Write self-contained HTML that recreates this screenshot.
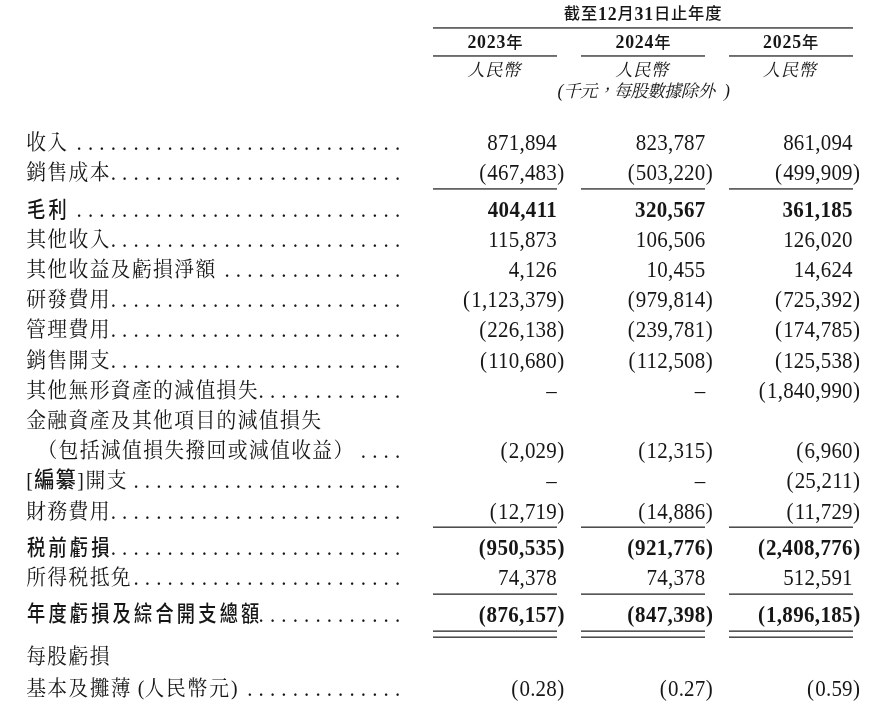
<!DOCTYPE html>
<html lang="zh-Hant">
<head>
<meta charset="utf-8">
<title>綜合損益表</title>
<style>
html,body{margin:0;padding:0;background:#fff;}
body{width:882px;height:715px;position:relative;overflow:hidden;color:#161616;
 font-family:"Liberation Serif","Noto Serif CJK SC",serif;font-size:21px;}
.r{position:absolute;left:0;width:882px;height:30px;white-space:nowrap;}
.r span{position:absolute;top:0;white-space:nowrap;line-height:30px;}
.r .l{left:26.2px;top:-0.99px;font-size:19.8px;letter-spacing:1.37px;transform:scaleY(1.06);transform-origin:0 21.68px;}
.r .l.in{left:37.4px;}
.r.b .l,.l b,.hb{font-family:"Liberation Serif","Noto Sans CJK TC",sans-serif;font-weight:700;}
.r.b .l{font-weight:500;left:26.8px;top:-0.37px;font-size:21.5px;letter-spacing:3.77px;transform:scaleX(0.847);transform-origin:0 50%;}
.l b{font-weight:500;font-size:20.3px;letter-spacing:.9px;margin:0 .6px 0 .7px;}
.l em{font-style:normal;margin-right:.3px;}
.l s{text-decoration:none;letter-spacing:1.8px;}
.r.b .v{font-weight:700;letter-spacing:0.33px;}
.d,.v{transform:scaleY(1.115);transform-origin:0 22.09px;}
.d{letter-spacing:6.12px;}
.v{text-align:right;letter-spacing:0.2px;}
.p{position:absolute;left:100%;font-style:normal;margin-left:.3px;}
.q{font-style:normal;margin-right:1px;}
.r.b .q{margin-right:.6px;}
.hl{position:absolute;}
.h{position:absolute;white-space:nowrap;font-size:17.8px;line-height:24px;height:24px;text-align:center;letter-spacing:0.8px;}
.h u{font-weight:500;text-decoration:none;font-size:16.3px;position:relative;top:-.8px;}
.hi{font-style:italic;font-weight:400;font-size:17.4px;letter-spacing:-0.6px;}
.hi em{font-size:17.8px;}
</style>
</head>
<body>
<div class="h hb" style="left:433.3px;width:419.5px;top:2.19px"><u>截</u><u>至</u>12<u>月</u>31<u>日</u><u>止</u><u>年</u><u>度</u></div>
<div class="hl" style="left:433.3px;width:419.5px;top:27px;height:2px;background:linear-gradient(#666666 0px,#666666 1px,#808080 1px,#808080 2px)"></div>
<div class="h hb" style="left:433.3px;width:124.1px;top:30.49px">2023<u>年</u></div>
<div class="hl" style="left:433.3px;width:124.1px;top:55px;height:2px;background:linear-gradient(#6b6b6b 0px,#6b6b6b 1px,#7a7a7a 1px,#7a7a7a 2px)"></div>
<div class="h hi" style="letter-spacing:.4px;left:431.8px;width:124.1px;top:58.43px">人民幣</div>
<div class="h hb" style="left:581.3px;width:124.2px;top:30.49px">2024<u>年</u></div>
<div class="hl" style="left:581.3px;width:124.2px;top:55px;height:2px;background:linear-gradient(#6b6b6b 0px,#6b6b6b 1px,#7a7a7a 1px,#7a7a7a 2px)"></div>
<div class="h hi" style="letter-spacing:.4px;left:579.8px;width:124.2px;top:58.43px">人民幣</div>
<div class="h hb" style="left:729.3px;width:123.5px;top:30.49px">2025<u>年</u></div>
<div class="hl" style="left:729.3px;width:123.5px;top:55px;height:2px;background:linear-gradient(#6b6b6b 0px,#6b6b6b 1px,#7a7a7a 1px,#7a7a7a 2px)"></div>
<div class="h hi" style="letter-spacing:.4px;left:727.8px;width:123.5px;top:58.43px">人民幣</div>
<div class="h hi" style="left:541.3px;width:204.2px;top:79.13px"><em style="margin-right:.5px">(</em>千元，每股數據除外<em style="margin-left:9.5px">)</em></div>
<div class="r" style="top:127.81px">
<span class="l">收入</span>
<span class="d" style="left:76.62px">.............................</span>
<span class="v" style="right:325px">871,894</span>
<span class="v" style="right:176.5px">823,787</span>
<span class="v" style="right:29.2px">861,094</span>
</div>
<div class="r" style="top:157.61px">
<span class="l">銷售成本</span>
<span class="d" style="left:110.73px">..........................</span>
<span class="v" style="right:325px"><i class="q">(</i>467,483<i class="p">)</i></span>
<span class="v" style="right:176.5px"><i class="q">(</i>503,220<i class="p">)</i></span>
<span class="v" style="right:29.2px"><i class="q">(</i>499,909<i class="p">)</i></span>
</div>
<div class="r b" style="top:194.91px">
<span class="l">毛利</span>
<span class="d" style="left:76.62px">.............................</span>
<span class="v" style="right:324.87px">404,411</span>
<span class="v" style="right:176.37px">320,567</span>
<span class="v" style="right:29.07px">361,185</span>
</div>
<div class="r" style="top:224.81px">
<span class="l">其他收入</span>
<span class="d" style="left:110.73px">..........................</span>
<span class="v" style="right:325px">115,873</span>
<span class="v" style="right:176.5px">106,506</span>
<span class="v" style="right:29.2px">126,020</span>
</div>
<div class="r" style="top:254.61px">
<span class="l">其他收益及虧損淨額</span>
<span class="d" style="left:224.43px">................</span>
<span class="v" style="right:325px">4,126</span>
<span class="v" style="right:176.5px">10,455</span>
<span class="v" style="right:29.2px">14,624</span>
</div>
<div class="r" style="top:284.51px">
<span class="l">研發費用</span>
<span class="d" style="left:110.73px">..........................</span>
<span class="v" style="right:325px"><i class="q">(</i>1,123,379<i class="p">)</i></span>
<span class="v" style="right:176.5px"><i class="q">(</i>979,814<i class="p">)</i></span>
<span class="v" style="right:29.2px"><i class="q">(</i>725,392<i class="p">)</i></span>
</div>
<div class="r" style="top:315.41px">
<span class="l">管理費用</span>
<span class="d" style="left:110.73px">..........................</span>
<span class="v" style="right:325px"><i class="q">(</i>226,138<i class="p">)</i></span>
<span class="v" style="right:176.5px"><i class="q">(</i>239,781<i class="p">)</i></span>
<span class="v" style="right:29.2px"><i class="q">(</i>174,785<i class="p">)</i></span>
</div>
<div class="r" style="top:345.71px">
<span class="l">銷售開支</span>
<span class="d" style="left:110.73px">..........................</span>
<span class="v" style="right:325px"><i class="q">(</i>110,680<i class="p">)</i></span>
<span class="v" style="right:176.5px"><i class="q">(</i>112,508<i class="p">)</i></span>
<span class="v" style="right:29.2px"><i class="q">(</i>125,538<i class="p">)</i></span>
</div>
<div class="r" style="top:376.01px">
<span class="l">其他無形資產的減值損失</span>
<span class="d" style="left:258.54px">.............</span>
<span class="v" style="right:325px">–</span>
<span class="v" style="right:176.5px">–</span>
<span class="v" style="right:29.2px"><i class="q">(</i>1,840,990<i class="p">)</i></span>
</div>
<div class="r" style="top:406.11px">
<span class="l">金融資產及其他項目的減值損失</span>
</div>
<div class="r" style="top:436.31px">
<span class="l in">（包括減值損失撥回或減值收益）</span>
<span class="d" style="left:360.87px">....</span>
<span class="v" style="right:325px"><i class="q">(</i>2,029<i class="p">)</i></span>
<span class="v" style="right:176.5px"><i class="q">(</i>12,315<i class="p">)</i></span>
<span class="v" style="right:29.2px"><i class="q">(</i>6,960<i class="p">)</i></span>
</div>
<div class="r" style="top:466.01px">
<span class="l"><em style="margin-right:-.5px">[</em><b>編纂</b><em>]</em>開支</span>
<span class="d" style="left:133.47px">........................</span>
<span class="v" style="right:325px">–</span>
<span class="v" style="right:176.5px">–</span>
<span class="v" style="right:29.2px"><i class="q">(</i>25,211<i class="p">)</i></span>
</div>
<div class="r" style="top:496.61px">
<span class="l">財務費用</span>
<span class="d" style="left:110.73px">..........................</span>
<span class="v" style="right:325px"><i class="q">(</i>12,719<i class="p">)</i></span>
<span class="v" style="right:176.5px"><i class="q">(</i>14,886<i class="p">)</i></span>
<span class="v" style="right:29.2px"><i class="q">(</i>11,729<i class="p">)</i></span>
</div>
<div class="r b" style="top:533.11px">
<span class="l">税前虧損</span>
<span class="d" style="left:110.73px">..........................</span>
<span class="v" style="right:324.87px"><i class="q">(</i>950,535<i class="p">)</i></span>
<span class="v" style="right:176.37px"><i class="q">(</i>921,776<i class="p">)</i></span>
<span class="v" style="right:29.07px"><i class="q">(</i>2,408,776<i class="p">)</i></span>
</div>
<div class="r" style="top:563.21px">
<span class="l">所得税抵免</span>
<span class="d" style="left:133.47px">........................</span>
<span class="v" style="right:325px">74,378</span>
<span class="v" style="right:176.5px">74,378</span>
<span class="v" style="right:29.2px">512,591</span>
</div>
<div class="r b" style="top:599.71px">
<span class="l">年度虧損及綜合開支總額</span>
<span class="d" style="left:258.54px">.............</span>
<span class="v" style="right:324.87px"><i class="q">(</i>876,157<i class="p">)</i></span>
<span class="v" style="right:176.37px"><i class="q">(</i>847,398<i class="p">)</i></span>
<span class="v" style="right:29.07px"><i class="q">(</i>1,896,185<i class="p">)</i></span>
</div>
<div class="r" style="top:642.31px">
<span class="l">每股虧損</span>
</div>
<div class="r" style="top:673.51px">
<span class="l">基本及攤薄<em style="margin:0 -1.3px 0 5.8px">(</em><s>人民幣元</s><em style="margin:0 0 0 .3px">)</em></span>
<span class="d" style="left:247.17px">..............</span>
<span class="v" style="right:325px"><i class="q">(</i>0.28<i class="p">)</i></span>
<span class="v" style="right:176.5px"><i class="q">(</i>0.27<i class="p">)</i></span>
<span class="v" style="right:29.2px"><i class="q">(</i>0.59<i class="p">)</i></span>
</div>
<div class="hl" style="left:433.3px;width:124.1px;top:188px;height:2px;background:linear-gradient(#646464 0px,#646464 1px,#828282 1px,#828282 2px)"></div>
<div class="hl" style="left:581.3px;width:124.2px;top:188px;height:2px;background:linear-gradient(#646464 0px,#646464 1px,#828282 1px,#828282 2px)"></div>
<div class="hl" style="left:729.3px;width:123.5px;top:188px;height:2px;background:linear-gradient(#646464 0px,#646464 1px,#828282 1px,#828282 2px)"></div>
<div class="hl" style="left:433.3px;width:124.1px;top:526px;height:2px;background:linear-gradient(#989898 0px,#989898 1px,#4d4d4d 1px,#4d4d4d 2px)"></div>
<div class="hl" style="left:581.3px;width:124.2px;top:526px;height:2px;background:linear-gradient(#989898 0px,#989898 1px,#4d4d4d 1px,#4d4d4d 2px)"></div>
<div class="hl" style="left:729.3px;width:123.5px;top:526px;height:2px;background:linear-gradient(#989898 0px,#989898 1px,#4d4d4d 1px,#4d4d4d 2px)"></div>
<div class="hl" style="left:433.3px;width:124.1px;top:593px;height:2px;background:linear-gradient(#8f8f8f 0px,#8f8f8f 1px,#575757 1px,#575757 2px)"></div>
<div class="hl" style="left:581.3px;width:124.2px;top:593px;height:2px;background:linear-gradient(#8f8f8f 0px,#8f8f8f 1px,#575757 1px,#575757 2px)"></div>
<div class="hl" style="left:729.3px;width:123.5px;top:593px;height:2px;background:linear-gradient(#8f8f8f 0px,#8f8f8f 1px,#575757 1px,#575757 2px)"></div>
<div class="hl" style="left:433.3px;width:124.1px;top:630px;height:2px;background:linear-gradient(#8f8f8f 0px,#8f8f8f 1px,#575757 1px,#575757 2px)"></div>
<div class="hl" style="left:581.3px;width:124.2px;top:630px;height:2px;background:linear-gradient(#8f8f8f 0px,#8f8f8f 1px,#575757 1px,#575757 2px)"></div>
<div class="hl" style="left:729.3px;width:123.5px;top:630px;height:2px;background:linear-gradient(#8f8f8f 0px,#8f8f8f 1px,#575757 1px,#575757 2px)"></div>
<div class="hl" style="left:433.3px;width:124.1px;top:636px;height:2px;background:linear-gradient(#989898 0px,#989898 1px,#4d4d4d 1px,#4d4d4d 2px)"></div>
<div class="hl" style="left:581.3px;width:124.2px;top:636px;height:2px;background:linear-gradient(#989898 0px,#989898 1px,#4d4d4d 1px,#4d4d4d 2px)"></div>
<div class="hl" style="left:729.3px;width:123.5px;top:636px;height:2px;background:linear-gradient(#989898 0px,#989898 1px,#4d4d4d 1px,#4d4d4d 2px)"></div>
</body>
</html>
